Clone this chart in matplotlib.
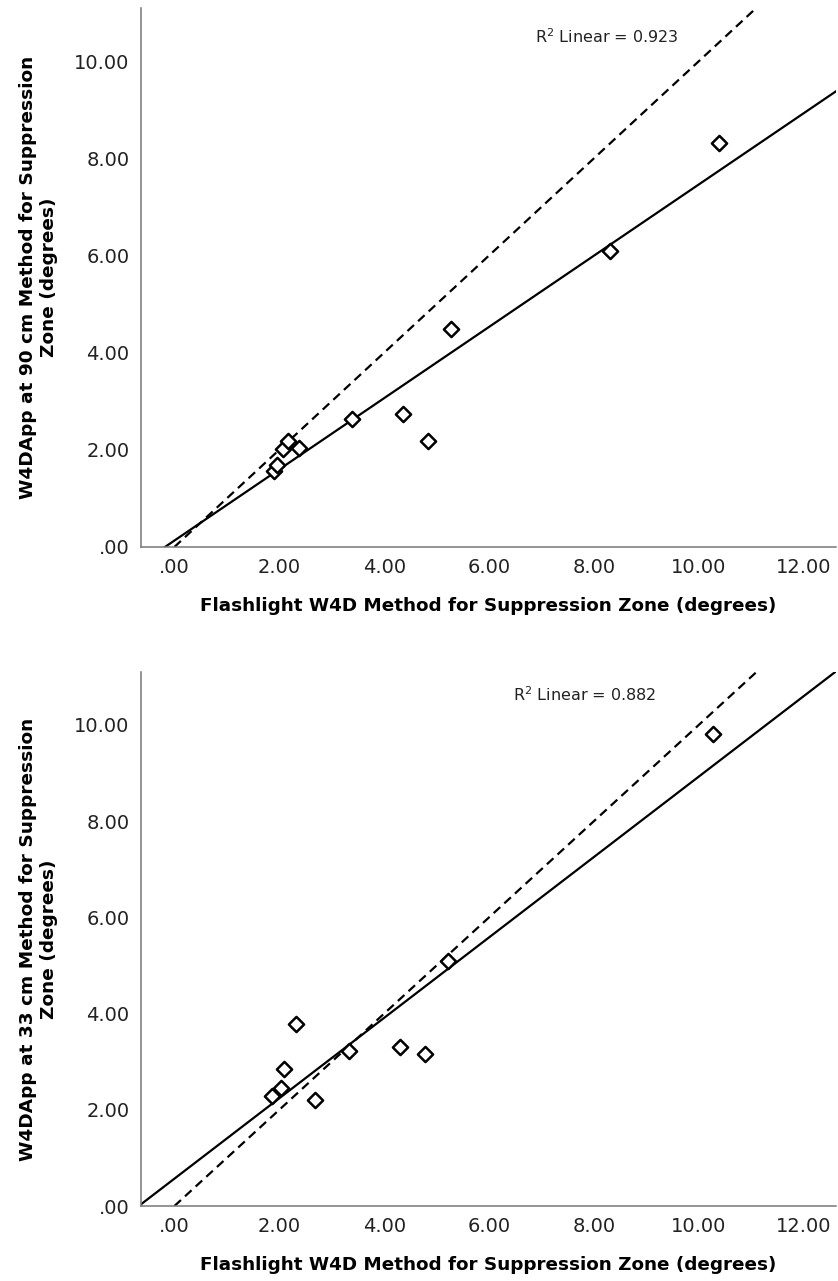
import numpy as np
import matplotlib
matplotlib.use("Agg")
from matplotlib import pyplot as plt

# flashlight W4D (x) vs W4DApp (y)
flash_90 = [1.90, 1.95, 2.07, 2.16, 2.37, 3.39, 4.36, 4.84, 5.27, 8.31, 10.39]
app_90 = [1.56, 1.68, 2.02, 2.18, 2.03, 2.63, 2.74, 2.19, 4.48, 6.09, 8.31]

flash_33 = [1.86, 2.03, 2.09, 2.32, 2.69, 3.33, 4.31, 4.77, 5.21, 10.26]
app_33 = [2.28, 2.46, 2.84, 3.78, 2.21, 3.23, 3.31, 3.16, 5.10, 9.80]

x_ticks = [0, 2, 4, 6, 8, 10, 12]
y_ticks = [0, 2, 4, 6, 8, 10]
r2_labels = ["0.923", "0.882"]

xlabel = "Flashlight W4D Method for Suppression Zone (degrees)"
ylabels = ["W4DApp at 90 cm Method for Suppression\nZone (degrees)",
           "W4DApp at 33 cm Method for Suppression\nZone (degrees)"]


def fmt(v):
    s = "%.2f" % v
    return s[1:] if s.startswith("0") else s


def scatter_panel(ax, xs, ys, ylab, r2txt, txtpos):
    ax.scatter(xs, ys, marker="D", s=60, facecolors="white",
               edgecolors="black", linewidths=1.8, zorder=3)
    # fit line + identity reference
    slope, icpt = np.polyfit(xs, ys, 1)
    ax.axline((0, icpt), slope=slope, color="black", lw=1.6, zorder=2)
    ax.axline((0, 0), slope=1, color="black", lw=1.6, ls=(0, (4, 2.5)), zorder=2)

    ax.set_xlim(-0.64, 12.62)
    ax.set_ylim(0, 11.1)
    ax.set_xticks(x_ticks)
    ax.set_yticks(y_ticks)
    ax.set_xticklabels([fmt(v) for v in x_ticks], fontsize=14, color="#222222")
    ax.set_yticklabels([fmt(v) for v in y_ticks], fontsize=14, color="#222222")
    ax.tick_params(length=0, pad=8)
    for s in ["top", "right"]:
        ax.spines[s].set_visible(False)
    for s in ["left", "bottom"]:
        ax.spines[s].set_color("#777777")
        ax.spines[s].set_linewidth(1.1)
    ax.set_xlabel(xlabel, fontsize=13.2, fontweight="bold", labelpad=14)
    ax.set_ylabel(ylab, fontsize=13.3, fontweight="bold", labelpad=12)
    ax.text(txtpos[0], txtpos[1], "R$^{2}$ Linear = " + r2txt,
            fontsize=11.5, va="center", color="#222222")


fig = plt.figure(figsize=(8.38, 12.81), dpi=100)
ax1 = fig.add_axes([0.168, 0.573, 0.83, 0.421])
ax2 = fig.add_axes([0.168, 0.0585, 0.83, 0.417])

scatter_panel(ax1, flash_90, app_90, ylabels[0], r2_labels[0], (6.87, 10.5))
scatter_panel(ax2, flash_33, app_33, ylabels[1], r2_labels[1], (6.45, 10.63))

fig.savefig("out.png", dpi=100)
